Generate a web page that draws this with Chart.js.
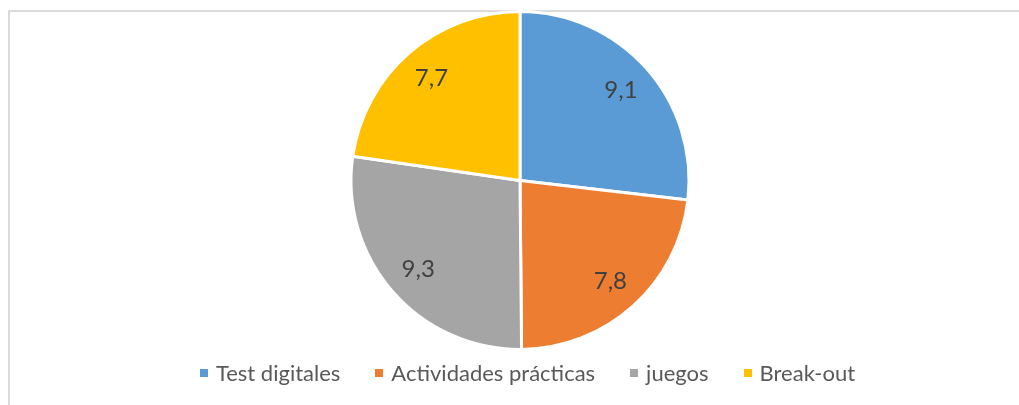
<!DOCTYPE html>
<html lang="es">
<head>
  <meta charset="UTF-8">
  <title>Valoración</title>
  <script src="https://cdn.jsdelivr.net/npm/chart.js"></script>
  <style>
    html, body { margin: 0; padding: 0; background: #fff; }
    .wrap { position: relative; width: 1019px; height: 405px; overflow: hidden; }
    .frame {
      position: absolute; left: 8px; top: 10px; right: -5px; bottom: -5px;
      border-left: 2px solid #dadada; border-top: 2px solid #dadada;
    }
    canvas { position: absolute; left: 0; top: 0; }
    .legend {
      position: absolute; left: 0; width: 1055px; top: 359px;
      display: flex; justify-content: center; gap: 35px;
      font-family: "Lato", sans-serif;
      font-size: 22px; color: #595959;
    }
    .legend span.box {
      display: inline-block; width: 8px; height: 8px; margin-right: 8px;
      vertical-align: middle; position: relative; top: -2px;
    }
  </style>
</head>
<body>
<div class="wrap">
  <div class="frame"></div>
  <canvas id="pie" width="1019" height="405"></canvas>
  <div class="legend" id="legend"></div>
</div>

<script>
// datos del gráfico
const categorias = ['Test digitales', 'Actividades prácticas', 'juegos', 'Break-out'];
const valores = [9.1, 7.8, 9.3, 7.7];
const etiquetas = ['9,1', '7,8', '9,3', '7,7'];
const colores = ['#5B9BD5', '#ED7D31', '#A5A5A5', '#FFC000'];

// etiquetas dentro de cada sector
const etiquetasPlugin = {
  id: 'etiquetas',
  afterDatasetsDraw(chart) {
    const ctx = chart.ctx;
    const meta = chart.getDatasetMeta(0);
    ctx.save();
    ctx.font = '24px Lato, sans-serif';
    ctx.fillStyle = '#404040';
    ctx.textAlign = 'center';
    ctx.textBaseline = 'middle';
    meta.data.forEach((arc, i) => {
      const p = arc.getProps(['x', 'y', 'startAngle', 'endAngle', 'outerRadius']);
      const a = (p.startAngle + p.endAngle) / 2;
      const d = p.outerRadius * 0.8;
      ctx.fillText(etiquetas[i], p.x + Math.cos(a) * d, p.y + Math.sin(a) * d);
    });
    ctx.restore();
  }
};

new Chart(document.getElementById('pie'), {
  type: 'pie',
  data: {
    labels: categorias,
    datasets: [{
      data: valores,
      backgroundColor: colores,
      borderColor: '#ffffff',
      borderWidth: 3
    }]
  },
  options: {
    responsive: false,
    animation: false,
    layout: { padding: { top: 10, bottom: 54, left: 21 } },
    plugins: {
      legend: { display: false },
      tooltip: { enabled: false }
    }
  },
  plugins: [etiquetasPlugin]
});

// leyenda en HTML
const leyenda = document.getElementById('legend');
categorias.forEach((c, i) => {
  const item = document.createElement('div');
  item.innerHTML = '<span class="box" style="background:' + colores[i] + '"></span>' + c;
  leyenda.appendChild(item);
});
</script>
</body>
</html>
